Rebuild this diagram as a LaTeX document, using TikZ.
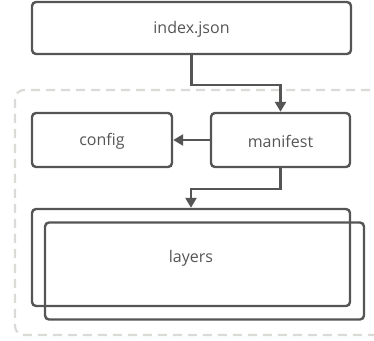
\documentclass[tikz,border=0pt]{standalone}
\usepackage{fontspec}
\setmainfont{Open Sans}
\usetikzlibrary{arrows.meta}
\definecolor{edge}{HTML}{555555}
\definecolor{txt}{HTML}{555555}
\definecolor{grp}{HTML}{DCDAD6}
\begin{document}
\begin{tikzpicture}[x=1pt,y=-1pt,
  box/.style={draw=edge,line width=2.4pt,rounded corners=4pt},
  lbl/.style={text=txt,font=\fontsize{16}{18}\selectfont},
  conn/.style={draw=edge,line width=2.4pt,-{Triangle[length=10pt,width=11pt]}},
  grpbox/.style={draw=grp,line width=2.2pt,dash pattern=on 9pt off 6pt,rounded corners=9pt}]
\useasboundingbox (0,0) rectangle (374,340);
\draw[grpbox] (400,90) -- (15,90) -- (15,335) -- (400,335);
\node[box,minimum width=319pt,minimum height=52pt] (idx) at (191.5,28) {};
\node[lbl] (idxt) at (191.5,29) {index.json};
\node[box,minimum width=140pt,minimum height=54pt] (cfg) at (102,140) {};
\node[lbl] (cfgt) at (102,141) {config};
\node[box,minimum width=139pt,minimum height=54pt] (man) at (280.5,140) {};
\node[lbl] (mant) at (280.5,141) {manifest};
\node[box,minimum width=319pt,minimum height=97pt] (lay2) at (204.5,271) {};
\node[box,minimum width=318pt,minimum height=97pt] (lay) at (191,257.5) {};
\node[lbl] (layt) at (191,258) {layers};
\draw[conn] (idx.south) -- ++(0,30) -| (man.north);
\draw[conn] (man.west) -- (cfg.east);
\draw[conn] (man.south) -- ++(0,21) -| (lay.north);
\end{tikzpicture}
\end{document}
